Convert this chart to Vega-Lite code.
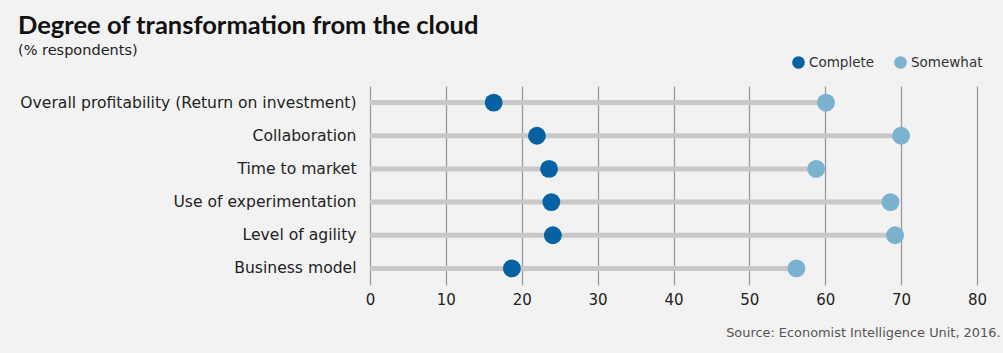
{
  "$schema": "https://vega.github.io/schema/vega-lite/v6.json",
  "width": 607,
  "height": 199,
  "autosize": {"type": "none"},
  "padding": {"left": 370, "top": 86, "right": 26, "bottom": 68},
  "background": "#f2f2f2",
  "title": {
    "text": "Degree of transformation from the cloud",
    "subtitle": "(% respondents)",
    "anchor": "start",
    "frame": "group",
    "dx": -352,
    "offset": -2,
    "font": "Lato",
    "fontSize": 25.5,
    "fontWeight": "bold",
    "color": "#111111",
    "subtitleFont": "DejaVu Sans",
    "subtitleFontSize": 14.5,
    "subtitleColor": "#222222",
    "subtitlePadding": 4
  },
  "config": {"view": {"stroke": null}},
  "data": {
    "values": [
      {"category": "Overall profitability (Return on investment)", "Complete": 16.3, "Somewhat": 60.1},
      {"category": "Collaboration", "Complete": 22, "Somewhat": 70},
      {"category": "Time to market", "Complete": 23.6, "Somewhat": 58.8},
      {"category": "Use of experimentation", "Complete": 23.9, "Somewhat": 68.6},
      {"category": "Level of agility", "Complete": 24.1, "Somewhat": 69.2},
      {"category": "Business model", "Complete": 18.7, "Somewhat": 56.2}
    ]
  },
  "layer": [
    {
      "mark": {"type": "rule", "color": "#c8c8c8", "strokeWidth": 5},
      "encoding": {
        "y": {
          "field": "category",
          "type": "nominal",
          "sort": null,
          "axis": {
            "title": null,
            "ticks": false,
            "domain": false,
            "grid": false,
            "labelFont": "DejaVu Sans",
            "labelFontSize": 15.6,
            "labelColor": "#222222",
            "labelPadding": 14,
            "labelLimit": 400
          }
        },
        "x": {
          "field": "Somewhat",
          "type": "quantitative",
          "scale": {"domain": [0, 80]},
          "axis": {
            "values": [0, 10, 20, 30, 40, 50, 60, 70, 80],
            "grid": true,
            "gridColor": "#9a9a9a",
            "gridWidth": 1.3,
            "ticks": false,
            "domain": false,
            "labelFlush": false,
            "labelFont": "DejaVu Sans",
            "labelFontSize": 15,
            "labelColor": "#222222",
            "labelPadding": 7,
            "title": "Source: Economist Intelligence Unit, 2016.",
            "titleFont": "DejaVu Sans",
            "titleFontSize": 12.9,
            "titleFontWeight": "normal",
            "titleColor": "#555555",
            "titleAnchor": "end",
            "titleAlign": "right",
            "titleBaseline": "alphabetic",
            "titleX": 630,
            "titleY": 51
          }
        },
        "x2": {"datum": 0}
      }
    },
    {
      "transform": [{"fold": ["Complete", "Somewhat"], "as": ["type", "value"]}],
      "mark": {"type": "circle", "opacity": 1, "size": 320},
      "encoding": {
        "y": {"field": "category", "type": "nominal", "sort": null},
        "x": {"field": "value", "type": "quantitative"},
        "color": {
          "field": "type",
          "type": "nominal",
          "scale": {"domain": ["Complete", "Somewhat"], "range": ["#0762a3", "#7bb2cf"]},
          "legend": {
            "orient": "none",
            "legendX": 421,
            "legendY": -31,
            "direction": "horizontal",
            "title": null,
            "symbolType": "circle",
            "symbolSize": 160,
            "symbolOpacity": 1,
            "labelFont": "DejaVu Sans",
            "labelFontSize": 13.5,
            "labelColor": "#333333",
            "labelOffset": 3,
            "columnPadding": 18
          }
        }
      }
    }
  ]
}
